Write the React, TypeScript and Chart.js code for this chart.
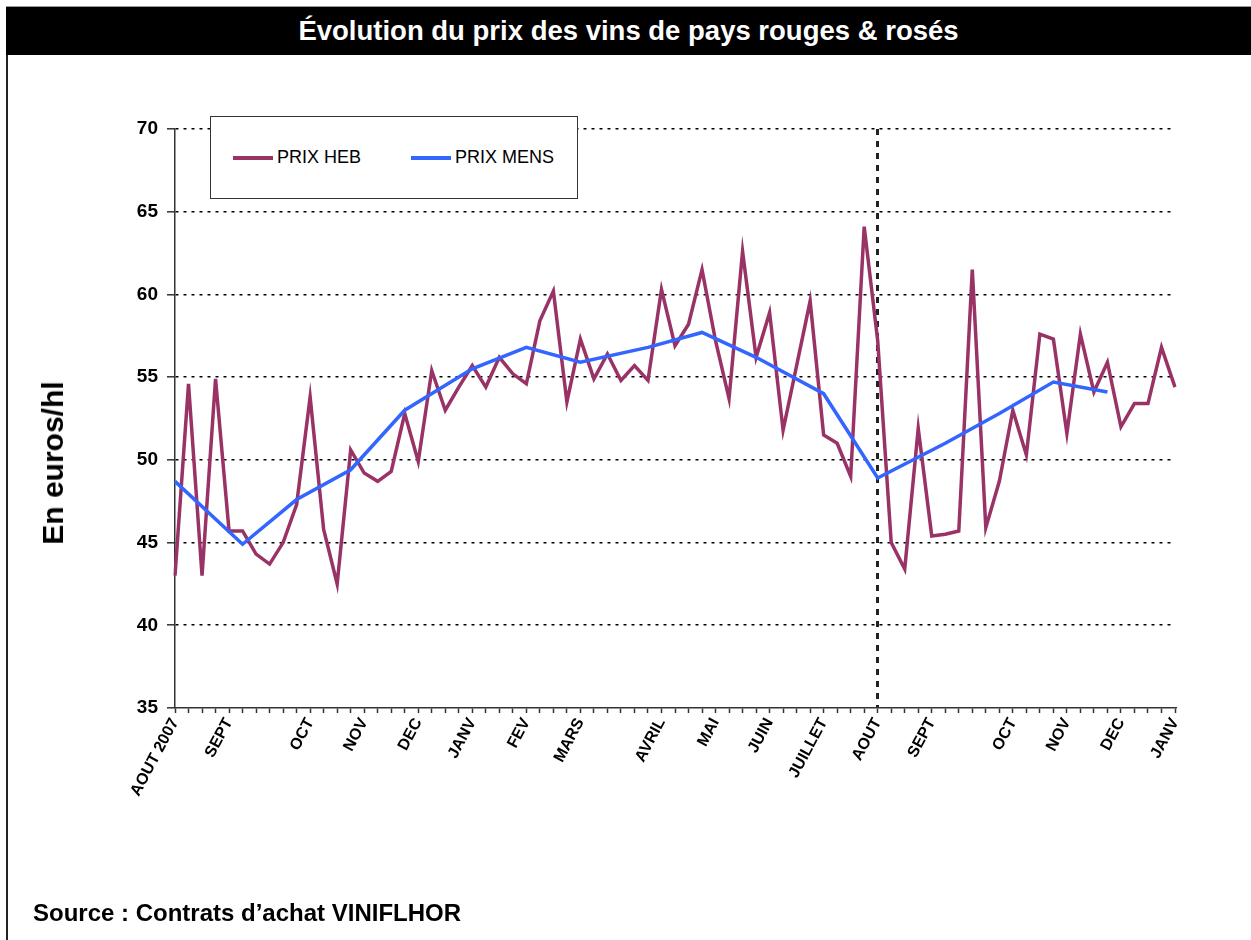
import React, { useEffect, useRef } from "react";
import { Chart, registerables } from "chart.js";

Chart.register(...registerables);

const FONT = "'Liberation Sans', Arial, Helvetica, sans-serif";

// Weekly categories (75 weeks); month labels sit on these week indices
const monthNames: string[] = [
  "AOUT 2007", "SEPT", "OCT", "NOV", "DEC", "JANV", "FEV", "MARS", "AVRIL",
  "MAI", "JUIN", "JUILLET", "AOUT", "SEPT", "OCT", "NOV", "DEC", "JANV",
];
const monthWeekIndex: number[] = [0, 4, 10, 14, 18, 22, 26, 30, 36, 40, 44, 48, 52, 56, 62, 66, 70, 74];
const WEEK_COUNT = 75;
const AOUT_2008_INDEX = 52;

// Weekly price (PRIX HEB), euros/hl
const prixHeb: number[] = [
  43.0, 54.6, 43.0, 54.9, 45.7, 45.7, 44.3, 43.7, 45.0, 47.3,
  53.8, 45.8, 42.5, 50.6, 49.2, 48.7, 49.3, 52.8, 49.9, 55.4,
  53.0, 54.4, 55.7, 54.4, 56.2, 55.2, 54.6, 58.4, 60.2, 53.5,
  57.3, 54.9, 56.4, 54.8, 55.7, 54.8, 60.3, 56.9, 58.2, 61.5,
  57.2, 53.7, 62.6, 56.2, 58.9, 51.8, 55.7, 59.6, 51.5, 51.0,
  49.0, 64.1, 57.2, 45.0, 43.4, 51.9, 45.4, 45.5, 45.7, 61.5,
  45.9, 48.7, 53.0, 50.3, 57.6, 57.3, 51.6, 57.6, 54.1, 55.9,
  52.0, 53.4, 53.4, 56.8, 54.4,
];

// Monthly price (PRIX MENS): week index and value
const prixMensWeek: number[] = [0, 5, 9, 13, 17, 22, 26, 30, 35, 39, 43, 48, 52, 57, 61, 65, 69];
const prixMensValue: number[] = [48.7, 44.9, 47.6, 49.4, 53.0, 55.5, 56.8, 55.9, 56.8, 57.7, 56.2, 54.0, 48.9, 51.0, 52.8, 54.7, 54.1];

const yTicks = { min: 35, max: 70, step: 5 };

const categories: string[] = Array.from({ length: WEEK_COUNT }, (_, i) => {
  const k = monthWeekIndex.indexOf(i);
  return k >= 0 ? monthNames[k] : "";
});
const prixMens: (number | null)[] = Array.from({ length: WEEK_COUNT }, (_, i) => {
  const k = prixMensWeek.indexOf(i);
  return k >= 0 ? prixMensValue[k] : null;
});

const COLOR_HEB = "#993366";
const COLOR_MENS = "#3366FF";

export default function App() {
  const canvasRef = useRef<HTMLCanvasElement | null>(null);

  useEffect(() => {
    if (!canvasRef.current) return;
    const chart = new Chart(canvasRef.current, {
      type: "line",
      data: {
        labels: categories,
        datasets: [
          {
            label: "PRIX HEB",
            data: prixHeb,
            borderColor: COLOR_HEB,
            backgroundColor: COLOR_HEB,
            borderWidth: 3.5,
            pointRadius: 0,
            tension: 0,
            fill: false,
            order: 1,
          },
          {
            label: "PRIX MENS",
            data: prixMens,
            borderColor: COLOR_MENS,
            backgroundColor: COLOR_MENS,
            borderWidth: 3.5,
            pointRadius: 0,
            tension: 0,
            fill: false,
            spanGaps: true,
            order: 0,
          },
        ],
      },
      options: {
        animation: false,
        responsive: false,
        layout: { padding: { left: 0, right: 76, top: 129, bottom: 0 } },
        plugins: {
          legend: { display: false },
          tooltip: { enabled: false },
          title: { display: false },
        },
        scales: {
          x: {
            type: "category",
            offset: false,
            grid: {
              display: true,
              drawOnChartArea: true,
              drawTicks: true,
              color: (c: any) => (c.index === AOUT_2008_INDEX ? "#222" : "rgba(0,0,0,0)"),
              lineWidth: 3,
              tickLength: 5,
              tickWidth: 1.5,
              tickColor: "#333",
              tickBorderDash: [],
            },
            border: { display: true, color: "#333", width: 1.5, dash: [6, 6] },
            ticks: {
              autoSkip: false,
              maxRotation: 62,
              minRotation: 62,
              padding: 2,
              color: "#000",
              font: { family: FONT, size: 16, weight: "bold" },
            },
            afterFit: (s: any) => {
              s.height = 232;
            },
          },
          y: {
            min: yTicks.min,
            max: yTicks.max,
            ticks: {
              stepSize: yTicks.step,
              padding: 9,
              color: "#000",
              font: { family: FONT, size: 19, weight: "bold" },
            },
            grid: {
              color: (c: any) => (c.tick && c.tick.value === yTicks.min ? "rgba(0,0,0,0)" : "#000"),
              lineWidth: 1.6,
              tickLength: 8,
              tickColor: "#333",
              tickWidth: 1.5,
              tickBorderDash: [],
            },
            border: { display: true, color: "#333", width: 1.5, dash: [3, 5] },
            afterFit: (s: any) => {
              s.width = 175;
            },
          },
        },
      },
    } as any);
    return () => chart.destroy();
  }, []);

  return (
    <div
      style={{
        position: "absolute",
        left: 0,
        top: 0,
        width: 1251,
        height: 940,
        overflow: "hidden",
        background: "#fff",
        fontFamily: FONT,
      }}
    >
      <canvas ref={canvasRef} width={1251} height={940} style={{ position: "absolute", left: 0, top: 0, width: 1251, height: 940 }} />
      {/* title bar */}
      <div
        style={{
          position: "absolute",
          left: 6,
          top: 6,
          width: 1245,
          height: 1,
          background: "#999",
        }}
      />
      <div
        style={{
          position: "absolute",
          left: 6,
          top: 7,
          width: 1245,
          height: 48,
          background: "#000",
          color: "#fff",
          fontWeight: "bold",
          fontSize: 27.5,
          display: "flex",
          alignItems: "center",
          justifyContent: "center",
          whiteSpace: "nowrap",
        }}
      >
        Évolution du prix des vins de pays rouges &amp; rosés
      </div>
      {/* left frame line */}
      <div style={{ position: "absolute", left: 6, top: 55, width: 2, height: 885, background: "#222" }} />
      {/* y axis title */}
      <div
        style={{
          position: "absolute",
          left: 53,
          top: 463,
          transform: "translate(-50%, -50%) rotate(-90deg)",
          whiteSpace: "nowrap",
          fontWeight: "bold",
          fontSize: 30,
          color: "#000",
          lineHeight: 1,
        }}
      >
        En euros/hl
      </div>
      {/* legend */}
      <div
        style={{
          position: "absolute",
          left: 210,
          top: 116,
          width: 366,
          height: 81,
          border: "1px solid #333",
          background: "#fff",
        }}
      >
        <div style={{ position: "absolute", left: 22, top: 39, width: 40, height: 3.5, background: COLOR_HEB }} />
        <div style={{ position: "absolute", left: 66, top: 30, fontSize: 18, lineHeight: "20px", color: "#000", whiteSpace: "nowrap" }}>
          PRIX HEB
        </div>
        <div style={{ position: "absolute", left: 200, top: 39, width: 40, height: 3.5, background: COLOR_MENS }} />
        <div style={{ position: "absolute", left: 244, top: 30, fontSize: 18, lineHeight: "20px", color: "#000", whiteSpace: "nowrap" }}>
          PRIX MENS
        </div>
      </div>
      {/* source */}
      <div
        style={{
          position: "absolute",
          left: 33,
          top: 901,
          fontWeight: "bold",
          fontSize: 24,
          lineHeight: 1,
          color: "#000",
          whiteSpace: "nowrap",
        }}
      >
        Source : Contrats d’achat VINIFLHOR
      </div>
    </div>
  );
}
